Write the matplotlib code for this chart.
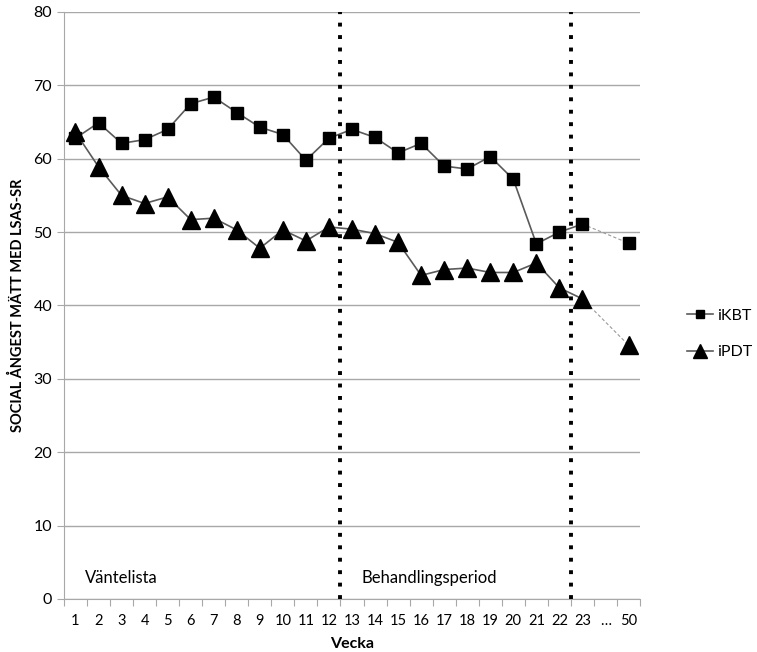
import matplotlib
matplotlib.use('Agg')
import matplotlib.pyplot as plt
import numpy as np

plt.rcParams['font.family'] = ['Lato', 'DejaVu Sans']

weeks = [str(w) for w in range(1, 24)] + ['…', '50']

ikbt = [62.8, 64.9, 62.1, 62.6, 64.0, 67.5, 68.4, 66.3, 64.3, 63.3, 59.8, 62.8,
        64.0, 62.9, 60.8, 62.1, 59.0, 58.6, 60.3, 57.2, 48.4, 50.0, 51.1]
ikbt_followup = 48.5

ipdt = [63.6, 58.9, 55.0, 53.9, 54.8, 51.7, 51.9, 50.3, 47.8, 50.3, 48.8, 50.7,
        50.4, 49.8, 48.6, 44.1, 44.9, 45.1, 44.5, 44.5, 45.8, 42.4, 40.9]
ipdt_followup = 34.6

phases = ['Väntelista', 'Behandlingsperiod']
phase_start = [0.4, 12.4]
phase_breaks = [11.5, 21.5]

fig = plt.figure(figsize=(7.57, 6.52), dpi=100)
ax = fig.add_axes([0.0845, 0.0813, 0.761, 0.9003])

x = np.arange(len(weeks))
line_col = '#5a5a5a'

l1, = ax.plot(x[:23], ikbt, color=line_col, lw=1.2, marker='s', ms=8,
              mfc='black', mec='black', zorder=4)
ax.plot([x[22], x[24]], [ikbt[-1], ikbt_followup], color='#9a9a9a', lw=0.8,
        ls=(0, (3, 2)), zorder=3)
ax.plot([x[24]], [ikbt_followup], ls='none', marker='s', ms=8, mfc='black',
        mec='black', zorder=4)

l2, = ax.plot(x[:23], ipdt, color=line_col, lw=1.2, marker='^', ms=13,
              mfc='black', mec='black', zorder=4)
ax.plot([x[22], x[24]], [ipdt[-1], ipdt_followup], color='#9a9a9a', lw=0.8,
        ls=(0, (3, 2)), zorder=3)
ax.plot([x[24]], [ipdt_followup], ls='none', marker='^', ms=13, mfc='black',
        mec='black', zorder=4)

for b in phase_breaks:
    ax.axvline(b, color='black', lw=2.8, ls=(0, (1, 2.2)), zorder=5)

for label, xs in zip(phases, phase_start):
    ax.text(xs, 2.9, label, fontsize=12, va='center', ha='left')

ax.set_xlim(-0.5, len(weeks) - 0.5)
ax.set_ylim(0, 80)
ax.set_yticks(range(0, 81, 10))
ax.yaxis.grid(True, color='#a8a8a8', lw=1)
ax.set_axisbelow(True)

ax.set_xticks(np.arange(-0.5, len(weeks)), labels=[])
ax.set_xticks(x, labels=weeks, minor=True)
ax.tick_params(axis='x', which='major', length=5, color='#a8a8a8', direction='out')
ax.tick_params(axis='x', which='minor', length=0, pad=11, labelsize=10.5)
ax.tick_params(axis='y', length=5, color='#a8a8a8', labelsize=11.5)

for s in ['top', 'right']:
    ax.spines[s].set_visible(False)
for s in ['left', 'bottom']:
    ax.spines[s].set_color('#a8a8a8')

ax.set_xlabel('Vecka', fontsize=11.5, fontweight='bold', labelpad=6)
ax.set_ylabel('SOCIAL ÅNGEST MÄTT MED LSAS-SR', fontsize=10.5, fontweight='bold', labelpad=6)

fig.legend([l1, l2], ['iKBT', 'iPDT'], loc='center left',
           bbox_to_anchor=(0.897, 0.488), frameon=False, fontsize=11.5,
           handlelength=1.6, labelspacing=1.4, handletextpad=0.3,
           borderpad=0, markerscale=0.8)

fig.savefig('out.png', dpi=100)
